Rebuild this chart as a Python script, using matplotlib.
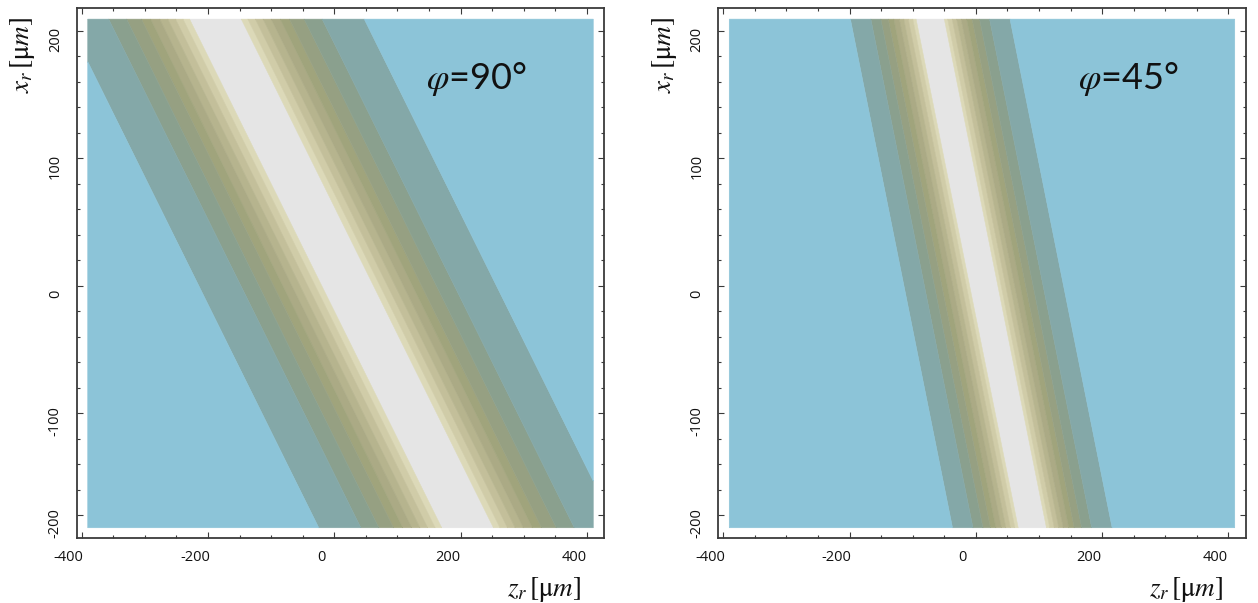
import numpy as np
import matplotlib
matplotlib.use("Agg")
import matplotlib.pyplot as plt
import matplotlib.transforms as mtrans
from matplotlib.ticker import FixedLocator, MultipleLocator

# ---------------- data ----------------
z_extent = [-390.5, 410.0]          # z_r range of the plotted field (µm)
x_extent = [-190.0, 209.3]          # x_r range of the plotted field (µm)
phi_labels = ["90°", "45°"]
center_offset = [21.0, 12.5]        # z of beam centre line at x_r = 0
center_slope = [-1.0, -0.405]       # dz/dx of beam centre line
# horizontal distance (µm) from centre line of each contour boundary
band_edges_90 = [41.0, 51.4, 63.2, 75.4, 88.3, 102.7, 117.2, 140.6, 169.0, 235.7]
band_edges_45 = [22.4, 27.7, 34.8, 41.9, 49.0, 57.7, 66.4, 78.2, 94.0, 126.4]
band_colors = ["#8CC4D8", "#84A8A8", "#8AA08E", "#96A082", "#A0A47C", "#ABAA85",
               "#B6B48E", "#C3BF9A", "#D0CCA8", "#DCD9B8", "#E5E5E5"]
x_ticks = [-400, -200, 0, 200, 400]
x_tick_labels = ["-400", "-200", "0", "200", "400"]
y_ticks = [200, 100, 0, -100, -180]
y_tick_labels = ["200", "100", "0", "-100", "-200"]
# ---------------------------------------------------------------

plt.rcParams["font.family"] = ["Open Sans", "DejaVu Sans"]
plt.rcParams["mathtext.fontset"] = "stix"

fig = plt.figure(figsize=(12.58, 6.03), dpi=100)
W, H = 1258.0, 603.0
frame_w, frame_h = 527.6, 529.4
lefts = [76.7, 718.2]
top = 8.3

edges_all = [band_edges_90, band_edges_45]
frame_col = "#3a3a3a"

for i in range(2):
    ax = fig.add_axes([lefts[i] / W, (H - top - frame_h) / H, frame_w / W, frame_h / H])
    ax.set_facecolor("white")
    zz = np.linspace(z_extent[0], z_extent[1], 1400)
    xx = np.linspace(x_extent[0], x_extent[1], 700)
    Z, X = np.meshgrid(zz, xx)
    D = np.abs(Z - (center_offset[i] + center_slope[i] * X))
    levels = [0.0] + edges_all[i] + [1e5]
    cs = ax.contourf(Z, X, D, levels=levels, colors=band_colors[::-1], antialiased=True)
    cs.set_edgecolor("face")
    cs.set_linewidth(0.4)

    ax.set_xlim(-408, 427.5)
    ax.set_ylim(-197.8, 217.8)

    ax.xaxis.set_major_locator(FixedLocator(x_ticks))
    ax.set_xticklabels(x_tick_labels)
    ax.xaxis.set_minor_locator(MultipleLocator(50))
    ax.yaxis.set_major_locator(FixedLocator(y_ticks))
    ax.set_yticklabels(y_tick_labels)
    ax.yaxis.set_minor_locator(MultipleLocator(20))

    ax.tick_params(which="both", direction="in", top=True, right=True,
                   color=frame_col, width=0.8, labelsize=10.5, labelcolor="#111111")
    ax.tick_params(which="major", length=4.5)
    ax.tick_params(which="minor", length=2.2)
    ax.tick_params(axis="x", pad=8.5)
    ax.tick_params(axis="y", pad=10, labelrotation=90)
    for lbl in ax.get_yticklabels():
        lbl.set_va("center")

    for sp in ax.spines.values():
        sp.set_linewidth(1.3)
        sp.set_color(frame_col)

    xoff = mtrans.ScaledTranslation(-0.13, 0, fig.dpi_scale_trans)
    yoff = mtrans.ScaledTranslation(0, -0.08, fig.dpi_scale_trans)
    for lbl in ax.get_xticklabels():
        lbl.set_transform(lbl.get_transform() + xoff)
    for lbl in ax.get_yticklabels():
        lbl.set_transform(lbl.get_transform() + yoff)

    ax.text(0.662 if i == 0 else 0.682, 0.8476, r"$\varphi$=" + phi_labels[i],
            transform=ax.transAxes, fontsize=26, va="baseline", ha="left",
            color="#111111", family=["Lato", "DejaVu Sans"])
    ax.text(0.957, -0.097, r"$z_r\,[\mathrm{μ}m]$", transform=ax.transAxes,
            fontsize=19.5, ha="right", va="center", color="#111111")
    ax.text(-0.1018, 0.912, r"$x_r\,[\mathrm{μ}m]$", transform=ax.transAxes,
            fontsize=19.5, ha="center", va="center", rotation=90, color="#111111")

fig.savefig("out.png", dpi=100)
